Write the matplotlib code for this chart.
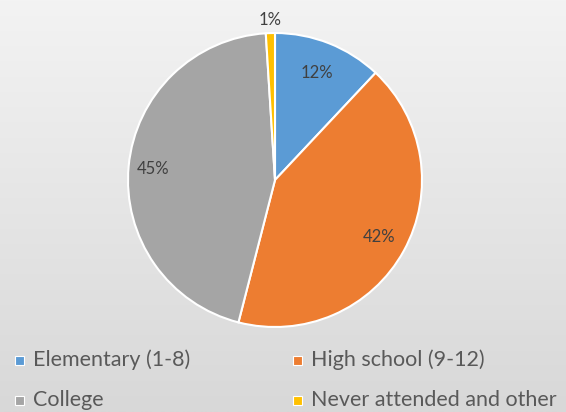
import matplotlib.pyplot as plt
import numpy as np
from matplotlib.patches import Rectangle

# education level shares
categories = ['Elementary (1-8)', 'High school (9-12)', 'College', 'Never attended and other']
shares = [12, 42, 45, 1]
colors = ['#5B9BD5', '#ED7D31', '#A5A5A5', '#FFC000']

plt.rcParams['font.family'] = ['Lato', 'DejaVu Sans']

W, H = 566, 412
fig = plt.figure(figsize=(W / 100, H / 100), dpi=100)

# soft vertical gradient behind everything
bg = fig.add_axes([0, 0, 1, 1], zorder=-10)
grad = np.linspace(0xF3, 0xD8, 256) / 255.0
img = np.repeat(grad[:, None, None], 3, axis=2)
bg.imshow(img, aspect='auto', extent=[0, 1, 0, 1], origin='upper')
bg.axis('off')

# pie: center (275,180) px, radius 147 px
cx, cy, r = 275, 180, 147
ax = fig.add_axes([(cx - r) / W, (H - cy - r) / H, 2 * r / W, 2 * r / H])
wedges, _ = ax.pie(shares, colors=colors, startangle=90, counterclock=False,
                   wedgeprops=dict(edgecolor='white', linewidth=1.5))
ax.set_xlim(-1, 1)
ax.set_ylim(-1, 1)
ax.set_aspect('equal')
ax.axis('off')

# percentage labels along each slice's mid-angle
dist = [0.78, 0.81, 0.83, 1.09]
for w, v, d in zip(wedges, shares, dist):
    ang = np.deg2rad((w.theta1 + w.theta2) / 2)
    ax.text(d * np.cos(ang), d * np.sin(ang), f'{v}%', ha='center', va='center',
            fontsize=12, color='#404040', clip_on=False)

# legend in two columns below the pie
xs = [19, 297]
ys = [360, 400]
for i, (name, c) in enumerate(zip(categories, colors)):
    x = xs[i % 2]
    y = ys[i // 2]
    fig.patches.append(Rectangle(((x - 4.5) / W, (H - y - 4.5) / H), 9 / W, 9 / H,
                                 transform=fig.transFigure, facecolor=c,
                                 edgecolor='white', linewidth=0.8))
    fig.text((x + 14) / W, (H - y) / H, name, ha='left', va='center',
             fontsize=15.5, color='#595959')

fig.savefig('out.png', dpi=100)
